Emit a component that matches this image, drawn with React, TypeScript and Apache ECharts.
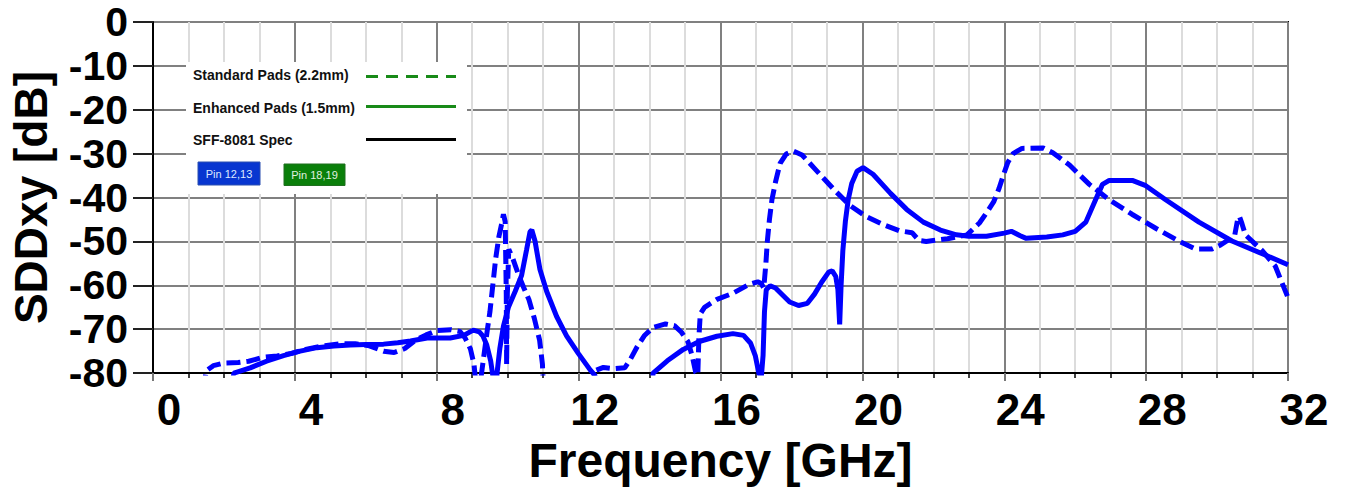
import React, { useEffect, useRef } from "react";
import * as echarts from "echarts";

// ---- Data ----
const xAxisTitle = "Frequency [GHz]";
const yAxisTitle = "SDDxy [dB]";

// Standard Pads (2.2mm), Pin 12,13 — dashed blue
const stdFreq = [
  1.35, 1.5, 1.7, 2.0, 2.4, 2.7, 3.1, 3.5, 3.9, 4.3, 4.8, 5.3, 5.7, 6.1, 6.5, 6.8, 7.1, 7.4, 7.7, 8.0,
  8.4, 8.65, 8.8, 8.95, 9.05, 9.1, 9.2, 9.28, 9.42, 9.5, 9.58, 9.66, 9.75, 9.83, 9.88, 9.93, 9.96, 9.97,
  9.99, 10.03, 10.15, 10.3, 10.45, 10.6, 10.75, 10.9, 10.98, 11.03, 12.35, 12.45, 12.7, 13.0, 13.3, 13.45,
  13.65, 13.85, 14.1, 14.45, 14.7, 14.9, 15.08, 15.2, 15.3, 15.36, 15.39, 15.43, 15.55, 15.9, 16.35, 16.8,
  17.05, 17.15, 17.22, 17.28, 17.32, 17.38, 17.45, 17.55, 17.68, 17.85, 18.05, 18.3, 18.7, 19.2, 19.65,
  20.1, 20.6, 21.05, 21.4, 21.6, 21.8, 22.4, 22.95, 23.3, 23.5, 23.7, 23.85, 23.97, 24.1, 24.25, 24.5,
  25.1, 25.37, 25.84, 26.4, 26.96, 27.6, 28.27, 28.92, 29.39, 29.86, 30.1, 30.35, 30.5, 30.58, 30.63,
  30.7, 30.8, 31.26, 31.64, 31.82, 32.0,
];
const stdDb = [
  -88, -79.5, -78.3, -77.7, -77.6, -77.3, -76.4, -76.1, -75.5, -74.6, -73.8, -73.3, -73.3, -73.8, -75,
  -75.3, -74.4, -72.5, -71.3, -70.3, -70.1, -70.5, -72, -74.5, -78, -82, -84, -79, -70.5, -66, -60, -54,
  -49, -46, -43.8, -45.5, -62, -78, -62, -51.8, -54, -57.5, -60.5, -63.3, -67.5, -72.5, -78, -88, -88,
  -79.5, -78.7, -79, -78.8, -77, -74, -71.5, -69.6, -68.8, -69.2, -70.7, -72.8, -76, -79.8, -80.5, -72,
  -66.5, -65, -63.2, -61.8, -59.8, -59.2, -59.6, -60.6, -55, -50, -45, -40.5, -36.5, -32.2, -30.1, -29.4,
  -30.3, -33.8, -38.2, -41.8, -44.3, -46.2, -47.6, -48, -49.8, -50, -49.4, -48.5, -45.8, -43.5, -41, -38,
  -35, -32, -30, -28.8, -28.7, -29.8, -32.6, -37, -40.5, -43.8, -47, -49.9, -51.7, -51.7, -50.8, -49.5,
  -48.5, -45, -44.3, -45.9, -48.5, -52, -55.6, -59.2, -62.8,
];

// Enhanced Pads (1.5mm), Pin 12,13 — solid blue
const enhFreq = [
  2.15, 2.28, 2.74, 3.2, 3.68, 4.15, 4.62, 5.1, 5.56, 6.0, 6.5, 6.9, 7.26, 7.73, 8.38, 8.76, 9.03, 9.2,
  9.3, 9.41, 9.52, 9.58, 9.62, 9.66, 9.7, 9.78, 9.88, 10.02, 10.21, 10.39, 10.53, 10.63, 10.68, 10.77,
  10.91, 11.1, 11.38, 11.66, 11.99, 12.32, 12.46, 12.55, 14.0, 14.1, 14.5, 14.95, 15.4, 15.9, 16.35,
  16.65, 16.85, 16.98, 17.08, 17.15, 17.2, 17.24, 17.29, 17.4, 17.55, 17.75, 17.95, 18.2, 18.45, 18.65,
  18.85, 19.05, 19.15, 19.25, 19.31, 19.36, 19.4, 19.45, 19.52, 19.6, 19.7, 19.85, 20.02, 20.3, 20.8,
  21.25, 21.72, 22.2, 22.65, 23.0, 23.5, 24.0, 24.2, 24.45, 24.62, 25.2, 25.65, 26.0, 26.3, 26.59, 26.77,
  26.96, 27.61, 27.99, 28.55, 29.49, 30.42, 31.36, 32.0,
];
const enhDb = [
  -88, -80, -78.8, -77.3, -76, -75, -74.2, -73.8, -73.6, -73.5, -73.4, -73.1, -72.7, -72, -72, -71.4,
  -70.2, -70.6, -71.5, -73.6, -77.2, -80.5, -88, -88, -80, -74.3, -69.3, -65, -61.4, -57.8, -52, -47.8,
  -47.4, -49.9, -56.4, -61.4, -67.1, -71.5, -75.5, -79.2, -80.5, -88, -88, -80, -77.2, -74.6, -72.8,
  -71.6, -71, -71.4, -73.2, -76, -80, -81, -76, -66, -61, -60.1, -60.6, -62.2, -63.8, -64.6, -64.1, -62,
  -59.3, -57, -56.7, -58, -61, -68.9, -60, -52, -45.5, -40.5, -36.8, -34, -33.2, -34.7, -39.1, -42.7,
  -45.6, -47.4, -48.5, -48.8, -48.8, -48.1, -47.7, -48.7, -49.3, -49, -48.5, -47.7, -45.6, -40.2, -37,
  -36.1, -36.1, -37.3, -40.5, -45.6, -49.9, -53.1, -55.3,
];

// Legend texts
const legendEntries = ["Standard Pads (2.2mm)", "Enhanced Pads (1.5mm)", "SFF-8081 Spec"];
const pinLabels = ["Pin 12,13", "Pin 18,19"];

const FONT = '"Liberation Sans", Arial, Helvetica, sans-serif';
const BLUE = "#0000ff";
const GREEN = "#188a18";

function zip(xs: number[], ys: number[]) {
  return xs.map((x, i) => [x, ys[i]]);
}

export default function App() {
  const ref = useRef<HTMLDivElement>(null);

  useEffect(() => {
    if (!ref.current) return;
    const chart = echarts.init(ref.current, null, { renderer: "svg" });

    const legendText = (text: string, y: number) => ({
      type: "text",
      x: 193,
      y,
      z: 101,
      style: {
        text,
        fontSize: 14,
        fontWeight: "bold",
        fontFamily: FONT,
        fill: "#111",
        align: "left",
        verticalAlign: "middle",
      },
    });

    const option: any = {
      animation: false,
      grid: {
        left: 153,
        right: 60,
        top: 22,
        bottom: 96,
        show: true,
        borderColor: "#000",
        borderWidth: 2,
        backgroundColor: "transparent",
      },
      xAxis: {
        type: "value",
        min: 0,
        max: 32,
        interval: 4,
        name: xAxisTitle,
        nameLocation: "middle",
        nameGap: 55,
        nameTextStyle: { fontSize: 48, fontWeight: "bold", fontFamily: FONT, color: "#000", lineHeight: 46 },
        axisLine: { show: true, onZero: false, lineStyle: { color: "#000", width: 2 } },
        axisTick: { show: true, length: 8, lineStyle: { color: "#777", width: 2 } },
        minorTick: { show: true, splitNumber: 4, length: 5, lineStyle: { color: "#000", width: 1.5 } },
        splitLine: { show: true, lineStyle: { color: "#808080", width: 2 } },
        minorSplitLine: { show: true, lineStyle: { color: "#dcdcdc", width: 2 } },
        axisLabel: {
          fontSize: 44,
          fontWeight: "bold",
          fontFamily: FONT,
          color: "#000",
          margin: 14,
          lineHeight: 44,
          padding: [0, 0, 0, 32],
          showMinLabel: true,
          showMaxLabel: true,
        },
      },
      yAxis: {
        type: "value",
        min: -80,
        max: 0,
        interval: 10,
        name: yAxisTitle,
        nameLocation: "middle",
        nameGap: 99,
        nameRotate: 90,
        nameTextStyle: { fontSize: 46, fontWeight: "bold", fontFamily: FONT, color: "#000", lineHeight: 46 },
        axisLine: { show: true, onZero: false, lineStyle: { color: "#000", width: 2 } },
        axisTick: { show: true, length: 20, lineStyle: { color: "#222", width: 2 } },
        splitLine: { show: true, lineStyle: { color: "#808080", width: 2 } },
        axisLabel: {
          fontSize: 41,
          fontWeight: "bold",
          fontFamily: FONT,
          color: "#000",
          margin: 25,
          lineHeight: 38,
          showMinLabel: true,
          showMaxLabel: true,
        },
      },
      series: [
        {
          name: "Standard Pads (2.2mm) Pin 12,13",
          type: "line",
          data: zip(stdFreq, stdDb),
          showSymbol: false,
          clip: true,
          lineStyle: { color: BLUE, width: 5, type: [14, 6] },
          z: 3,
        },
        {
          name: "Enhanced Pads (1.5mm) Pin 12,13",
          type: "line",
          data: zip(enhFreq, enhDb),
          showSymbol: false,
          clip: true,
          lineStyle: { color: BLUE, width: 5, type: "solid" },
          z: 4,
        },
      ],
      graphic: [
        {
          type: "rect",
          z: 100,
          shape: { x: 186, y: 62, width: 281, height: 132 },
          style: { fill: "#ffffff" },
        },
        legendText(legendEntries[0], 75),
        {
          type: "line",
          z: 101,
          shape: { x1: 366, y1: 76.5, x2: 456, y2: 76.5 },
          style: { stroke: GREEN, lineWidth: 3, lineDash: [12, 8] },
        },
        legendText(legendEntries[1], 107.5),
        {
          type: "line",
          z: 101,
          shape: { x1: 366, y1: 106.5, x2: 456, y2: 106.5 },
          style: { stroke: GREEN, lineWidth: 3 },
        },
        legendText(legendEntries[2], 140),
        {
          type: "line",
          z: 101,
          shape: { x1: 366, y1: 139.5, x2: 456, y2: 139.5 },
          style: { stroke: "#000", lineWidth: 3 },
        },
        {
          type: "rect",
          z: 101,
          shape: { x: 198, y: 162, width: 62, height: 23 },
          style: { fill: "#0836d0", stroke: "#2a4fb0", lineWidth: 1 },
        },
        {
          type: "text",
          z: 102,
          x: 229,
          y: 173.5,
          style: {
            text: pinLabels[0],
            fontSize: 11,
            fontFamily: FONT,
            fill: "#dde8ff",
            align: "center",
            verticalAlign: "middle",
          },
        },
        {
          type: "rect",
          z: 101,
          shape: { x: 284, y: 164, width: 61, height: 21.5 },
          style: { fill: "#0a7f0a", stroke: "#1f6f1f", lineWidth: 1 },
        },
        {
          type: "text",
          z: 102,
          x: 314.5,
          y: 175,
          style: {
            text: pinLabels[1],
            fontSize: 11,
            fontFamily: FONT,
            fill: "#e0f0e0",
            align: "center",
            verticalAlign: "middle",
          },
        },
      ],
    };

    chart.setOption(option);
    return () => {
      chart.dispose();
    };
  }, []);

  return (
    <div
      ref={ref}
      style={{ position: "absolute", left: 0, top: 0, width: 1348, height: 489, background: "#fff" }}
    />
  );
}
